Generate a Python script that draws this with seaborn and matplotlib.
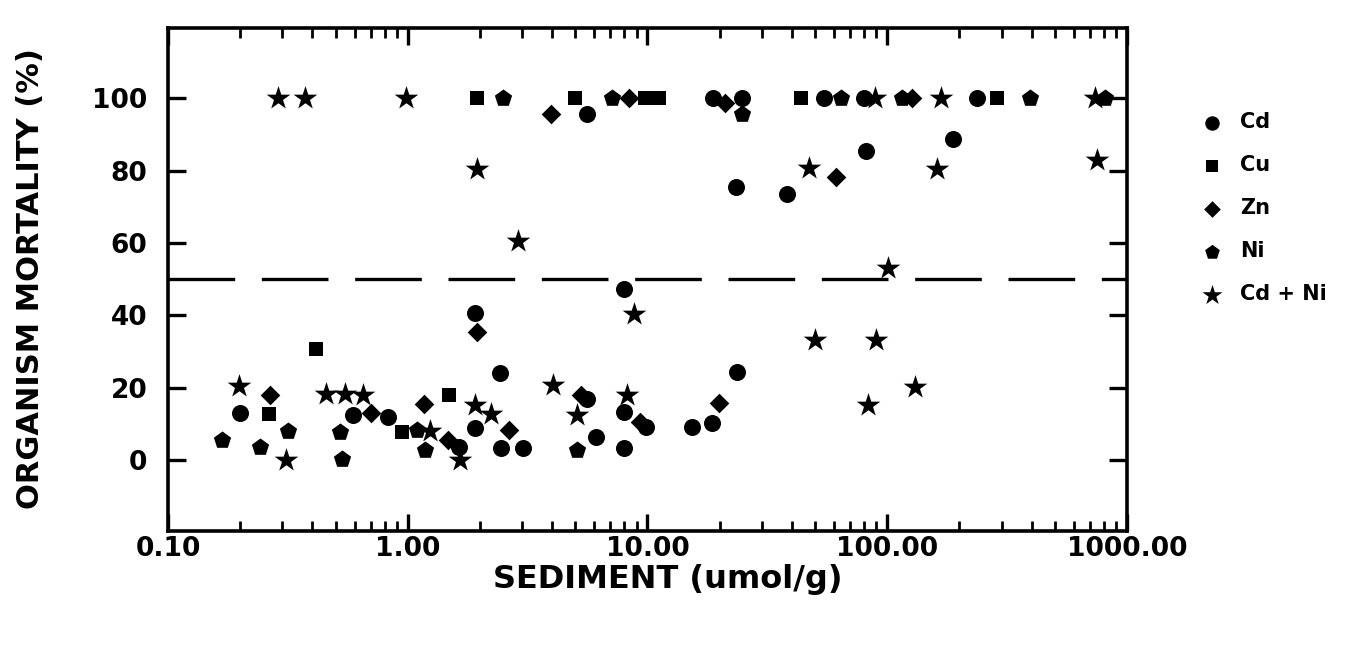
import seaborn as sns
import matplotlib.pyplot as plt
import pandas as pd
from matplotlib.ticker import FixedLocator, FixedFormatter, LogLocator, NullFormatter

# values (sediment umol/g, mortality %)
cd_x = [0.20, 0.59, 0.83, 1.64, 1.91, 1.90, 2.43, 2.45, 3.03, 5.6, 6.1, 8.0, 8.0, 9.85,
        8.0, 15.3, 18.6, 23.6, 23.5, 38.1, 81.3, 187.5, 5.6, 18.8, 24.7, 54.5, 80.0, 236.0]
cd_y = [13.0, 12.5, 12.0, 3.7, 40.6, 9.0, 24.0, 3.4, 3.5, 17.0, 6.3, 47.4, 13.2, 9.3,
        3.3, 9.1, 10.2, 24.5, 75.5, 73.6, 85.5, 88.8, 95.6, 100, 100, 100, 100, 100]

cu_x = [0.263, 0.414, 0.95, 1.48, 1.95, 4.99, 9.8, 11.2, 43.6, 286.0]
cu_y = [12.9, 30.6, 7.9, 18.1, 100, 100, 100, 100, 100, 100]

zn_x = [0.267, 0.70, 1.17, 1.47, 1.95, 2.65, 5.3, 9.35, 19.8, 60.9, 3.95, 8.4, 21.0, 126.5]
zn_y = [18.1, 13.0, 15.6, 5.6, 35.4, 8.4, 18.0, 10.6, 15.8, 78.3, 95.5, 100, 98.6, 100]

ni_x = [0.168, 0.243, 0.318, 0.52, 0.53, 1.09, 1.18, 5.1, 2.49, 7.08, 24.9, 64.0, 115.0,
        393.0, 807.0]
ni_y = [5.5, 3.6, 8.0, 7.9, 0.4, 8.4, 2.9, 2.8, 100, 100, 95.6, 100, 100, 100, 100]

cdni_x = [0.197, 0.311, 0.454, 0.547, 0.653, 1.24, 1.65, 1.90, 2.23, 4.05, 5.07, 8.2, 8.8,
          50.1, 89.5, 83.0, 131.0, 101.0, 47.1, 161.0, 747.0, 1.95, 2.87, 0.287, 0.373,
          0.98, 89.3, 167.0, 733.0]
cdni_y = [20.4, 0.1, 18.2, 18.3, 18.0, 8.0, 0.0, 15.4, 12.8, 20.8, 12.5, 17.9, 40.3,
          33.1, 33.1, 15.3, 20.3, 53.0, 80.6, 80.5, 83.0, 80.5, 60.6, 100, 100,
          100, 100, 100, 100]

metals = ["Cd", "Cu", "Zn", "Ni", "Cd + Ni"]
threshold = 50
xtick_vals = [0.1, 1, 10, 100, 1000]
xtick_labels = ["0.10", "1.00", "10.00", "100.00", "1000.00"]
ytick_vals = [0, 20, 40, 60, 80, 100]

frames = []
for name, xs, ys in zip(metals, [cd_x, cu_x, zn_x, ni_x, cdni_x],
                        [cd_y, cu_y, zn_y, ni_y, cdni_y]):
    frames.append(pd.DataFrame({"sediment": xs, "mortality": ys, "metal": name}))
data = pd.concat(frames, ignore_index=True)

sns.set_style("ticks")
plt.rcParams["font.family"] = ["DejaVu Sans"]
plt.rcParams["font.weight"] = "bold"
plt.rcParams["text.color"] = "black"
plt.rcParams["axes.labelcolor"] = "black"
plt.rcParams["xtick.color"] = "black"
plt.rcParams["ytick.color"] = "black"

fig = plt.figure(figsize=(13.56, 6.57), dpi=100)
ax = fig.add_axes([0.1239, 0.1925, 0.7072, 0.7656])

# one call per metal so each marker gets its own size
markers = {"Cd": "o", "Cu": "s", "Zn": "D", "Ni": "p", "Cd + Ni": "*"}
sizes = {"Cd": 150, "Cu": 95, "Zn": 100, "Ni": 170, "Cd + Ni": 320}
for name in metals:
    sub = data[data["metal"] == name]
    sns.scatterplot(x="sediment", y="mortality", data=sub, marker=markers[name],
                    s=sizes[name], color="black", edgecolor="black", linewidth=0,
                    label=name, ax=ax)

ax.axhline(threshold, color="black", lw=2.4, dashes=(20, 8), dash_capstyle="butt")

ax.set_xscale("log")
ax.set_xlim(0.1, 1000)
ax.set_ylim(-19.4, 119.5)
ax.xaxis.set_major_locator(FixedLocator(xtick_vals))
ax.xaxis.set_major_formatter(FixedFormatter(xtick_labels))
ax.xaxis.set_minor_locator(LogLocator(base=10, subs=range(2, 10), numticks=20))
ax.xaxis.set_minor_formatter(NullFormatter())
ax.set_yticks(ytick_vals)

for s in ax.spines.values():
    s.set_linewidth(2.6)
    s.set_color("black")

ax.tick_params(which="both", direction="in", top=True, right=True, color="black",
               labelcolor="black")
ax.tick_params(axis="x", which="major", length=12, width=2.4, pad=4, labelsize=19)
ax.tick_params(axis="x", which="minor", length=7, width=2.0)
ax.tick_params(axis="y", which="major", length=13, width=2.4, pad=15, labelsize=19)

ax.set_xlabel("SEDIMENT (umol/g)", fontsize=23, fontweight="bold", color="black")
ax.set_ylabel("ORGANISM MORTALITY (%)", fontsize=22, fontweight="bold", color="black")
ax.xaxis.set_label_coords(0.521, -0.066)
ax.yaxis.set_label_coords(-0.128, 0.5)

leg = ax.legend(loc="upper left", bbox_to_anchor=(0.886, 0.829),
                bbox_transform=fig.transFigure, frameon=False, fontsize=15,
                handlelength=1.0, handletextpad=0.85, labelspacing=1.1,
                borderpad=0, borderaxespad=0, markerscale=0.85)
for t in leg.get_texts():
    t.set_color("black")

plt.savefig("out.png", dpi=100)
